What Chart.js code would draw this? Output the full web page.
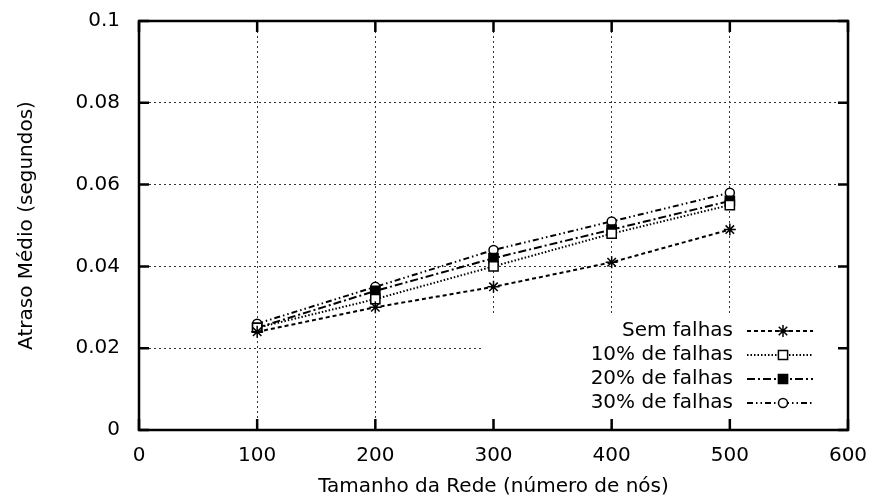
<!DOCTYPE html>
<html>
<head>
<meta charset="utf-8">
<script src="https://cdn.jsdelivr.net/npm/chart.js@4.4.1/dist/chart.umd.min.js"></script>
<style>
    html, body { margin: 0; padding: 0; background: #fff; }
</style>
</head>
<body>
<canvas id="chart" width="873" height="500"></canvas>
<script>
var networkSizes = [100, 200, 300, 400, 500];
var semFalhas = [0.024, 0.030, 0.035, 0.041, 0.049];
var falhas10 = [0.025, 0.032, 0.040, 0.048, 0.055];
var falhas20 = [0.025, 0.034, 0.042, 0.049, 0.056];
var falhas30 = [0.026, 0.035, 0.044, 0.051, 0.058];

function toPoints(values) {
    return values.map((v, i) => ({ x: networkSizes[i], y: v }));
}

function makeSeries(label, values, dash, style, radius, fill) {
    return {
        label: label,
        data: toPoints(values),
        borderColor: '#000',
        borderWidth: 2,
        borderDash: dash,
        pointStyle: style,
        pointRadius: radius,
        pointBorderWidth: 1.5,
        pointBorderColor: '#000',
        pointBackgroundColor: fill,
        tension: 0,
        fill: false
    };
}

// white legend box, tick marks inside the frame, frame and legend entries
var frameAndLegend = {
    id: 'frameAndLegend',
    beforeDatasetsDraw: function(chart) {
        var ctx = chart.ctx, a = chart.chartArea;
        ctx.save();
        ctx.fillStyle = '#fff';
        ctx.fillRect(a.right - 365, a.bottom - 117, 365, 117);
        ctx.restore();
    },
    afterDraw: function(chart) {
        var ctx = chart.ctx, a = chart.chartArea;
        var xs = chart.scales.x, ys = chart.scales.y;
        ctx.save();
        ctx.strokeStyle = '#000';
        ctx.lineWidth = 2.5;
        ctx.setLineDash([]);
        ctx.beginPath();
        xs.ticks.forEach(t => {
            var px = xs.getPixelForValue(t.value);
            ctx.moveTo(px, a.bottom); ctx.lineTo(px, a.bottom - 11);
            ctx.moveTo(px, a.top); ctx.lineTo(px, a.top + 11);
        });
        ys.ticks.forEach(t => {
            var py = ys.getPixelForValue(t.value);
            ctx.moveTo(a.left, py); ctx.lineTo(a.left + 10, py);
            ctx.moveTo(a.right, py); ctx.lineTo(a.right - 10, py);
        });
        ctx.stroke();
        ctx.strokeRect(a.left, a.top, a.right - a.left, a.bottom - a.top);

        ctx.font = '20px "DejaVu Sans"';
        ctx.textAlign = 'right';
        ctx.textBaseline = 'middle';
        ctx.fillStyle = '#000';
        chart.data.datasets.forEach((ds, i) => {
            var y = a.bottom - 99 + i * 24;
            ctx.fillText(ds.label, a.right - 115, y);
            ctx.lineWidth = ds.borderWidth;
            ctx.setLineDash(ds.borderDash);
            ctx.beginPath();
            ctx.moveTo(a.right - 101, y);
            ctx.lineTo(a.right - 35, y);
            ctx.stroke();
            ctx.setLineDash([]);
            ctx.lineWidth = ds.pointBorderWidth;
            ctx.fillStyle = ds.pointBackgroundColor;
            Chart.helpers.drawPoint(ctx, {
                pointStyle: ds.pointStyle,
                radius: ds.pointRadius,
                rotation: 0,
                borderWidth: ds.pointBorderWidth
            }, a.right - 65, y);
            ctx.fillStyle = '#000';
        });
        ctx.restore();
    }
};

Chart.defaults.font.family = '"DejaVu Sans", sans-serif';
Chart.defaults.font.size = 20;
Chart.defaults.color = '#000';

var ctx = document.getElementById('chart').getContext('2d');
var chart = new Chart(ctx, {
    type: 'line',
    data: {
        datasets: [
            makeSeries('Sem falhas', semFalhas, [4, 3], 'star', 6, '#000'),
            makeSeries('10% de falhas', falhas10, [1.5, 2], 'rect', 6.5, '#fff'),
            makeSeries('20% de falhas', falhas20, [8, 3, 2, 3], 'rect', 6.5, '#000'),
            makeSeries('30% de falhas', falhas30, [6, 3, 1.5, 3, 1.5, 3], 'circle', 4.5, '#fff')
        ]
    },
    options: {
        responsive: false,
        animation: false,
        layout: {
            padding: { top: 21, right: 25, left: 0, bottom: 0 }
        },
        scales: {
            x: {
                type: 'linear',
                min: 0,
                max: 600,
                ticks: {
                    stepSize: 100,
                    padding: 14,
                    maxRotation: 0
                },
                grid: {
                    color: '#333',
                    lineWidth: 1,
                    drawTicks: false
                },
                border: { display: false, dash: [2, 3] },
                title: {
                    display: true,
                    text: 'Tamanho da Rede (número de nós)',
                    padding: { top: 0, bottom: 1 }
                },
                afterFit: function(scale) {
                    scale.height = 70;
                    scale.paddingLeft = 0;
                    scale.paddingRight = 0;
                }
            },
            y: {
                min: 0,
                max: 0.1,
                ticks: {
                    stepSize: 0.02,
                    padding: 19,
                    callback: function(value) {
                        return String(+value.toFixed(2));
                    }
                },
                grid: {
                    color: '#333',
                    lineWidth: 1,
                    drawTicks: false
                },
                border: { display: false, dash: [2, 3] },
                title: {
                    display: true,
                    text: 'Atraso Médio (segundos)',
                    padding: { top: 15, bottom: 0 }
                },
                afterFit: function(scale) {
                    scale.width = 139;
                    scale.paddingTop = 0;
                    scale.paddingBottom = 0;
                }
            }
        },
        plugins: {
            legend: { display: false },
            tooltip: { enabled: false }
        }
    },
    plugins: [frameAndLegend]
});
</script>
</body>
</html>
